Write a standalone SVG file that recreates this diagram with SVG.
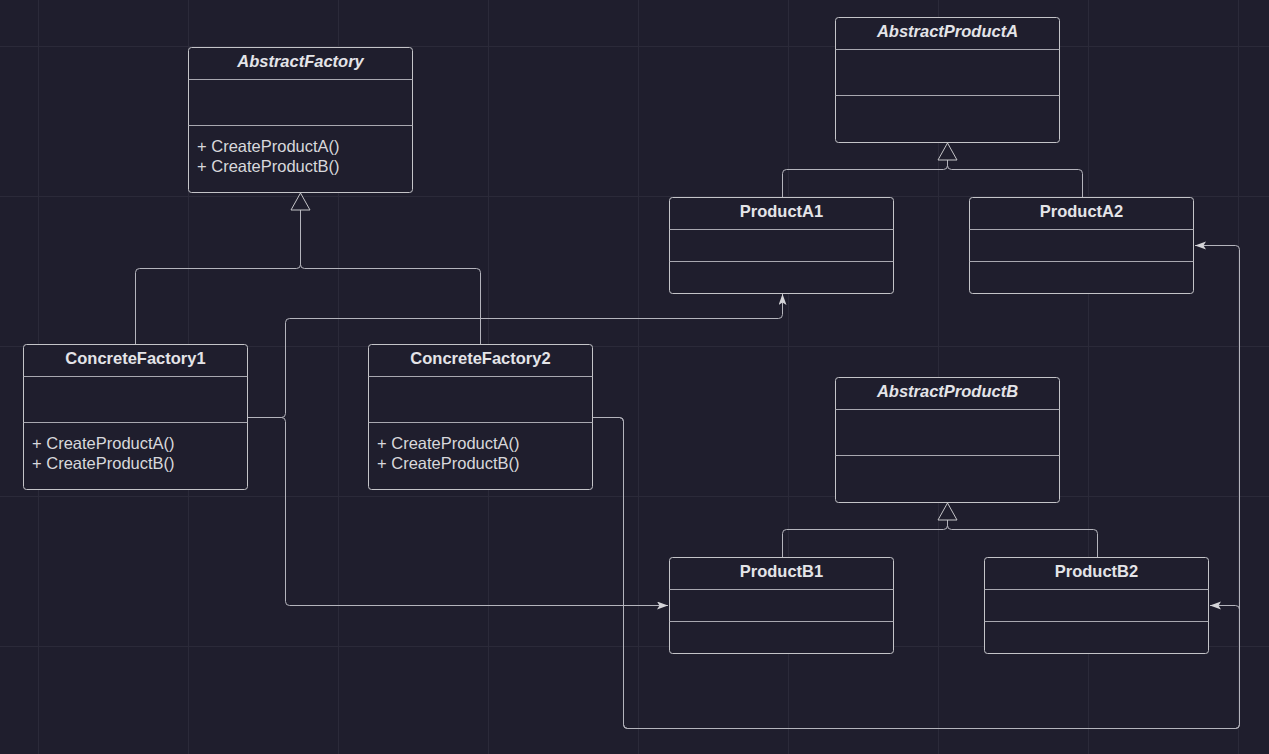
<svg xmlns="http://www.w3.org/2000/svg" width="1269" height="754" viewBox="0 0 1269 754">
<defs>
<style>
.bg{fill:#1f1e2d}
.grid line{stroke:#2b2a39;stroke-width:1}
.box{fill:#1f1e2d;stroke:#c4c4c8;stroke-width:1}
.div{stroke:#a8a8b0;stroke-width:1}
.title{font-family:"Liberation Sans",Arial,sans-serif;font-size:16.5px;font-weight:bold;fill:#e4e4e8;text-anchor:middle}
.abs{font-style:italic}
.meth{font-family:"Liberation Sans",Arial,sans-serif;font-size:16.5px;fill:#d8d8dc}
.conn path{fill:none;stroke:#b4b4bc;stroke-width:1}
.tri{fill:#1f1e2d;stroke:#c4c4c8;stroke-width:1}
</style>
<marker id="arr" markerUnits="userSpaceOnUse" markerWidth="12" markerHeight="9" refX="11" refY="4" orient="auto">
<path d="M0,0 L11,4 L0,8 L2.5,4 Z" fill="#d4d4d8"/>
</marker>
</defs>
<rect class="bg" x="0" y="0" width="1269" height="754"/>
<g class="grid">
<line x1="38.5" y1="0" x2="38.5" y2="754"/>
<line x1="188.5" y1="0" x2="188.5" y2="754"/>
<line x1="338.5" y1="0" x2="338.5" y2="754"/>
<line x1="488.5" y1="0" x2="488.5" y2="754"/>
<line x1="638.5" y1="0" x2="638.5" y2="754"/>
<line x1="788.5" y1="0" x2="788.5" y2="754"/>
<line x1="938.5" y1="0" x2="938.5" y2="754"/>
<line x1="1088.5" y1="0" x2="1088.5" y2="754"/>
<line x1="1238.5" y1="0" x2="1238.5" y2="754"/>
<line x1="0" y1="46.5" x2="1269" y2="46.5"/>
<line x1="0" y1="196.5" x2="1269" y2="196.5"/>
<line x1="0" y1="346.5" x2="1269" y2="346.5"/>
<line x1="0" y1="496.5" x2="1269" y2="496.5"/>
<line x1="0" y1="646.5" x2="1269" y2="646.5"/>
</g>
<g id="connectors" class="conn">
<path d="M135.5,344 V272.5 Q135.5,268.5 139.5,268.5 H296.5 Q300.5,268.5 300.5,264.5 V210"/>
<path d="M480.5,344 V272.5 Q480.5,268.5 476.5,268.5 H304.5 Q300.5,268.5 300.5,264.5 V210"/>
<path d="M782.5,197 V173.5 Q782.5,169.5 786.5,169.5 H943.5 Q947.5,169.5 947.5,165.5 V160"/>
<path d="M1082.5,197 V173.5 Q1082.5,169.5 1078.5,169.5 H951.5 Q947.5,169.5 947.5,165.5 V160"/>
<path d="M782.5,557 V533.5 Q782.5,529.5 786.5,529.5 H943.5 Q947.5,529.5 947.5,525.5 V520"/>
<path d="M1097.5,557 V533.5 Q1097.5,529.5 1093.5,529.5 H951.5 Q947.5,529.5 947.5,525.5 V520"/>
<path d="M248,417.5 H281.5 Q285.5,417.5 285.5,413.5 V322.5 Q285.5,318.5 289.5,318.5 H778.5 Q782.5,318.5 782.5,314.5 V294" marker-end="url(#arr)"/>
<path d="M248,417.5 H281.5 Q285.5,417.5 285.5,421.5 V601.5 Q285.5,605.5 289.5,605.5 H668" marker-end="url(#arr)"/>
<path d="M593,417.5 H619.5 Q623.5,417.5 623.5,421.5 V724.5 Q623.5,728.5 627.5,728.5 H1235.5 Q1239.5,728.5 1239.5,724.5 V609.5 Q1239.5,605.5 1235.5,605.5 H1210" marker-end="url(#arr)"/>
<path d="M593,417.5 H619.5 Q623.5,417.5 623.5,421.5 V724.5 Q623.5,728.5 627.5,728.5 H1235.5 Q1239.5,728.5 1239.5,724.5 V249.5 Q1239.5,245.5 1235.5,245.5 H1195" marker-end="url(#arr)"/>
<polygon class="tri" points="300.5,193 291,210 310,210"/>
<polygon class="tri" points="947.5,143 938,160 957,160"/>
<polygon class="tri" points="947.5,503 938,520 957,520"/>
</g>
<g id="AbstractFactory">
<rect class="box" x="188.5" y="47.5" width="224" height="145" rx="3"/>
<line class="div" x1="188.5" y1="79.5" x2="412.5" y2="79.5"/>
<line class="div" x1="188.5" y1="125.5" x2="412.5" y2="125.5"/>
<text class="title abs" x="300.5" y="67">AbstractFactory</text>
<text class="meth" x="197" y="152">+ CreateProductA()</text>
<text class="meth" x="197" y="172">+ CreateProductB()</text>
</g>
<g id="ConcreteFactory1">
<rect class="box" x="23.5" y="344.5" width="224" height="145" rx="3"/>
<line class="div" x1="23.5" y1="376.5" x2="247.5" y2="376.5"/>
<line class="div" x1="23.5" y1="422.5" x2="247.5" y2="422.5"/>
<text class="title" x="135.5" y="364">ConcreteFactory1</text>
<text class="meth" x="32" y="449">+ CreateProductA()</text>
<text class="meth" x="32" y="469">+ CreateProductB()</text>
</g>
<g id="ConcreteFactory2">
<rect class="box" x="368.5" y="344.5" width="224" height="145" rx="3"/>
<line class="div" x1="368.5" y1="376.5" x2="592.5" y2="376.5"/>
<line class="div" x1="368.5" y1="422.5" x2="592.5" y2="422.5"/>
<text class="title" x="480.5" y="364">ConcreteFactory2</text>
<text class="meth" x="377" y="449">+ CreateProductA()</text>
<text class="meth" x="377" y="469">+ CreateProductB()</text>
</g>
<g id="AbstractProductA">
<rect class="box" x="835.5" y="17.5" width="224" height="125" rx="3"/>
<line class="div" x1="835.5" y1="49.5" x2="1059.5" y2="49.5"/>
<line class="div" x1="835.5" y1="95.5" x2="1059.5" y2="95.5"/>
<text class="title abs" x="947.5" y="37">AbstractProductA</text>
</g>
<g id="ProductA1">
<rect class="box" x="669.5" y="197.5" width="224" height="96" rx="3"/>
<line class="div" x1="669.5" y1="229.5" x2="893.5" y2="229.5"/>
<line class="div" x1="669.5" y1="261.5" x2="893.5" y2="261.5"/>
<text class="title" x="781.5" y="217">ProductA1</text>
</g>
<g id="ProductA2">
<rect class="box" x="969.5" y="197.5" width="224" height="96" rx="3"/>
<line class="div" x1="969.5" y1="229.5" x2="1193.5" y2="229.5"/>
<line class="div" x1="969.5" y1="261.5" x2="1193.5" y2="261.5"/>
<text class="title" x="1081.5" y="217">ProductA2</text>
</g>
<g id="AbstractProductB">
<rect class="box" x="835.5" y="377.5" width="224" height="125" rx="3"/>
<line class="div" x1="835.5" y1="409.5" x2="1059.5" y2="409.5"/>
<line class="div" x1="835.5" y1="455.5" x2="1059.5" y2="455.5"/>
<text class="title abs" x="947.5" y="397">AbstractProductB</text>
</g>
<g id="ProductB1">
<rect class="box" x="669.5" y="557.5" width="224" height="96" rx="3"/>
<line class="div" x1="669.5" y1="589.5" x2="893.5" y2="589.5"/>
<line class="div" x1="669.5" y1="621.5" x2="893.5" y2="621.5"/>
<text class="title" x="781.5" y="577">ProductB1</text>
</g>
<g id="ProductB2">
<rect class="box" x="984.5" y="557.5" width="224" height="96" rx="3"/>
<line class="div" x1="984.5" y1="589.5" x2="1208.5" y2="589.5"/>
<line class="div" x1="984.5" y1="621.5" x2="1208.5" y2="621.5"/>
<text class="title" x="1096.5" y="577">ProductB2</text>
</g>
</svg>
